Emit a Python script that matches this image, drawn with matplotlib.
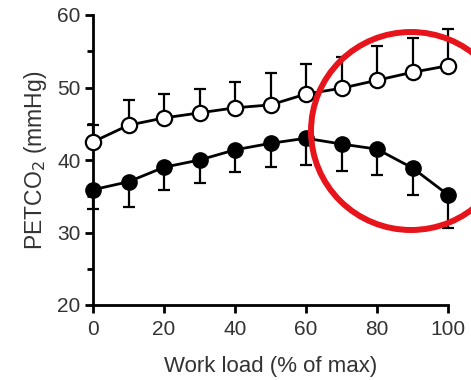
import matplotlib
matplotlib.use("Agg")
import matplotlib.pyplot as plt
from matplotlib.patches import Ellipse
import numpy as np

work_load = [0, 10, 20, 30, 40, 50, 60, 70, 80, 90, 100]
open_mean = [42.5, 44.8, 45.8, 46.5, 47.2, 47.6, 49.1, 49.9, 51.0, 52.1, 53.0]
open_err_top = [44.8, 48.3, 49.1, 49.8, 50.7, 52.0, 53.2, 54.2, 55.7, 56.8, 58.1]
filled_mean = [35.9, 37.0, 39.0, 40.0, 41.4, 42.3, 43.0, 42.2, 41.5, 38.9, 35.2]
filled_err_bottom = [33.2, 33.5, 35.9, 36.8, 38.3, 39.0, 39.3, 38.5, 37.9, 35.2, 30.6]
x_ticks = [0, 20, 40, 60, 80, 100]
y_ticks = [20, 30, 40, 50, 60]

plt.rcParams['font.family'] = ['Liberation Sans', 'DejaVu Sans']
txt = '#333333'

fig = plt.figure(figsize=(4.71, 3.80), dpi=100)
ax = fig.add_axes([93/471, 75/380, 355/471, 290/380])

x = np.array(work_load)
om = np.array(open_mean)
fm = np.array(filled_mean)
up = np.array(open_err_top) - om
dn = fm - np.array(filled_err_bottom)

ax.errorbar(x, om, yerr=[np.zeros_like(up), up], fmt='none', ecolor='black',
            elinewidth=1.6, capsize=4.5, capthick=1.6, clip_on=False, zorder=2)
ax.errorbar(x, fm, yerr=[dn, np.zeros_like(dn)], fmt='none', ecolor='black',
            elinewidth=1.6, capsize=4.5, capthick=1.6, clip_on=False, zorder=2)
ax.plot(x, om, '-o', color='black', lw=2.0, ms=11, mfc='white', mec='black',
        mew=1.6, clip_on=False, zorder=3)
ax.plot(x, fm, '-o', color='black', lw=2.0, ms=11, mfc='black', mec='black',
        clip_on=False, zorder=3)

ax.set_xlim(0, 100)
ax.set_ylim(20, 60)
ax.set_xticks(x_ticks)
ax.set_yticks(y_ticks)
ax.set_yticks([25, 35, 45, 55], minor=True)
for s in ['top', 'right']:
    ax.spines[s].set_visible(False)
for s in ['left', 'bottom']:
    ax.spines[s].set_linewidth(2.0)
ax.tick_params(which='major', length=6, width=2.0, labelsize=15, colors='black',
               labelcolor=txt, pad=3)
ax.tick_params(axis='x', which='major', pad=5)
ax.tick_params(which='minor', length=4, width=2.0, colors='black')
ax.set_xlabel('Work load (% of max)', fontsize=16, color=txt, labelpad=12)
ax.set_ylabel('PETCO$_2$ (mmHg)', fontsize=16.5, color=txt, labelpad=6)

# red highlight circle (pixel geometry)
cx, cy = 411, 380 - 131
ell = Ellipse((cx, cy), 200, 198, transform=None, fill=False,
              edgecolor='#e8141c', lw=4.3, zorder=5, clip_on=False)
fig.patches.append(ell)

fig.savefig('out.png', dpi=100)
